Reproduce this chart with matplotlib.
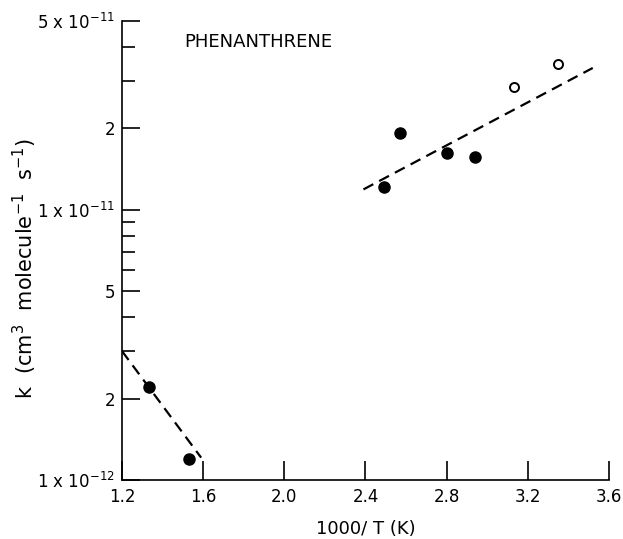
import matplotlib
matplotlib.use('Agg')
from matplotlib import pyplot as plt
from matplotlib.ticker import FixedLocator, NullFormatter

# data
hi_t_filled_x = [2.49, 2.57, 2.80, 2.94]
hi_t_filled_k = [1.21e-11, 1.92e-11, 1.62e-11, 1.57e-11]
hi_t_open_x = [3.13, 3.35]
hi_t_open_k = [2.84e-11, 3.46e-11]
lo_t_x = [1.333, 1.53]
lo_t_k = [2.2e-12, 1.2e-12]

fit_hi_x = [2.39, 3.52]
fit_hi_k = [1.19e-11, 3.35e-11]
fit_lo_x = [1.2, 1.59]
fit_lo_k = [3.0e-12, 1.21e-12]

x_ticks = [1.2, 1.6, 2.0, 2.4, 2.8, 3.2, 3.6]
x_labels = ['1.2', '1.6', '2.0', '2.4', '2.8', '3.2', '3.6']
y_ticks = [1e-12, 2e-12, 5e-12, 1e-11, 2e-11, 5e-11]
y_labels = ['1 x 10$^{-12}$', '2', '5', '1 x 10$^{-11}$', '2', '5 x 10$^{-11}$']
y_minor = [3e-12, 4e-12, 6e-12, 7e-12, 8e-12, 9e-12, 3e-11, 4e-11]

plt.rcParams['font.family'] = ['DejaVu Sans']

fig = plt.figure(figsize=(6.23, 5.39), dpi=100)
ax = fig.add_axes([0.1958, 0.1095, 0.7817, 0.8516])

ax.plot(fit_hi_x, fit_hi_k, c='black', lw=1.6, dashes=(5, 3))
ax.plot(fit_lo_x, fit_lo_k, c='black', lw=1.6, dashes=(5, 3))
ax.plot(hi_t_filled_x, hi_t_filled_k, 'o', c='black', ms=8)
ax.plot(lo_t_x, lo_t_k, 'o', c='black', ms=8)
ax.plot(hi_t_open_x, hi_t_open_k, 'o', mfc='white', mec='black', mew=1.4, ms=6.5)

ax.set_yscale('log')
ax.set_xlim(1.2, 3.6)
ax.set_ylim(1e-12, 5e-11)

ax.spines['top'].set_visible(False)
ax.spines['right'].set_visible(False)
ax.spines['left'].set_linewidth(1.2)
ax.spines['bottom'].set_linewidth(1.2)

ax.set_xticks(x_ticks)
ax.set_xticklabels(x_labels)
ax.yaxis.set_major_locator(FixedLocator(y_ticks))
ax.set_yticklabels(y_labels)
ax.yaxis.set_minor_locator(FixedLocator(y_minor))
ax.yaxis.set_minor_formatter(NullFormatter())

ax.tick_params(axis='x', direction='in', length=14, width=1.2, labelsize=12, pad=6)
ax.tick_params(axis='y', which='major', direction='in', length=13, width=1.2, labelsize=12, pad=5)
ax.tick_params(axis='y', which='minor', direction='in', length=9, width=1.2)

ax.set_xlabel('1000/ T (K)', fontsize=13, labelpad=10)
ax.set_ylabel('k  (cm$^3$  molecule$^{-1}$  s$^{-1}$)', fontsize=15)
ax.yaxis.set_label_coords(-0.17, 0.46)

ax.text(0.127, 0.955, 'PHENANTHRENE', transform=ax.transAxes, fontsize=13, va='center', ha='left')

fig.savefig('out.png', dpi=100)
